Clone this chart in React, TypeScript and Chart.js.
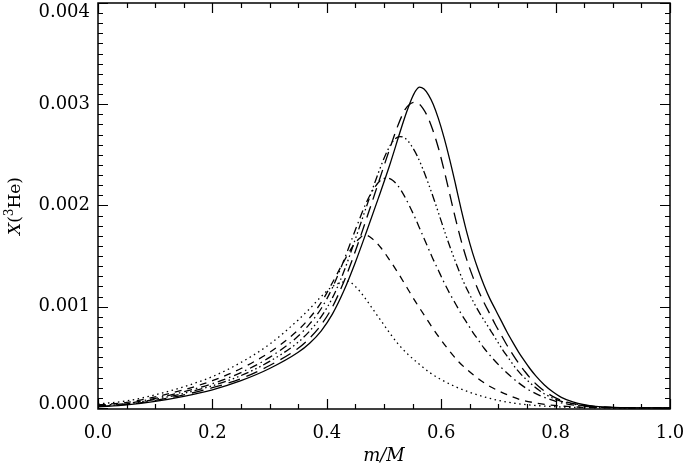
import React, { useEffect, useRef } from "react";
import { Chart, registerables } from "chart.js";

Chart.register(...registerables);

// Axis ticks
const X_TICKS = [0, 0.2, 0.4, 0.6, 0.8, 1.0];
const Y_TICKS = [0, 0.001, 0.002, 0.003, 0.004];
const X_MINOR_STEP = 0.05;
const Y_MINOR_STEP = 0.0001;
const X_LABEL = "m/M";

// Series (linestyles: solid, long dashes, dash-dot-dot-dot, dash-dot, dashed, dotted)
const solidX = [0, 0.05, 0.1, 0.15, 0.2, 0.25, 0.3, 0.35, 0.37, 0.39, 0.41, 0.43, 0.45, 0.47, 0.49, 0.51, 0.53, 0.54, 0.548, 0.555, 0.562, 0.57, 0.578, 0.586, 0.595, 0.605, 0.615, 0.625, 0.635, 0.645, 0.655, 0.665, 0.675, 0.685, 0.695, 0.705, 0.715, 0.725, 0.735, 0.745, 0.755, 0.765, 0.78, 0.795, 0.81, 0.83, 0.85, 0.87, 0.9, 0.94, 1.0];
const solidY = [0.01e-3, 0.03e-3, 0.065e-3, 0.115e-3, 0.18e-3, 0.27e-3, 0.39e-3, 0.55e-3, 0.64e-3, 0.76e-3, 0.93e-3, 1.16e-3, 1.44e-3, 1.75e-3, 2.07e-3, 2.40e-3, 2.76e-3, 2.93e-3, 3.05e-3, 3.13e-3, 3.17e-3, 3.15e-3, 3.09e-3, 3.00e-3, 2.86e-3, 2.67e-3, 2.45e-3, 2.21e-3, 1.96e-3, 1.73e-3, 1.53e-3, 1.36e-3, 1.21e-3, 1.08e-3, 0.97e-3, 0.86e-3, 0.75e-3, 0.65e-3, 0.555e-3, 0.47e-3, 0.39e-3, 0.32e-3, 0.23e-3, 0.16e-3, 0.105e-3, 0.06e-3, 0.032e-3, 0.016e-3, 0.006e-3, 0.002e-3, 0];

const longDashX = [0, 0.05, 0.1, 0.15, 0.2, 0.25, 0.3, 0.35, 0.37, 0.39, 0.41, 0.43, 0.45, 0.47, 0.49, 0.51, 0.525, 0.537, 0.545, 0.553, 0.56, 0.568, 0.576, 0.585, 0.595, 0.605, 0.615, 0.625, 0.635, 0.645, 0.655, 0.665, 0.675, 0.685, 0.695, 0.705, 0.715, 0.725, 0.735, 0.745, 0.755, 0.77, 0.785, 0.8, 0.82, 0.845, 0.87, 0.91, 1.0];
const longDashY = [0.015e-3, 0.035e-3, 0.075e-3, 0.13e-3, 0.20e-3, 0.29e-3, 0.42e-3, 0.59e-3, 0.69e-3, 0.82e-3, 1.00e-3, 1.25e-3, 1.55e-3, 1.88e-3, 2.22e-3, 2.56e-3, 2.80e-3, 2.95e-3, 3.00e-3, 3.02e-3, 3.01e-3, 2.96e-3, 2.88e-3, 2.75e-3, 2.57e-3, 2.35e-3, 2.11e-3, 1.87e-3, 1.65e-3, 1.46e-3, 1.30e-3, 1.16e-3, 1.04e-3, 0.93e-3, 0.82e-3, 0.72e-3, 0.62e-3, 0.53e-3, 0.445e-3, 0.37e-3, 0.30e-3, 0.215e-3, 0.15e-3, 0.10e-3, 0.058e-3, 0.03e-3, 0.014e-3, 0.004e-3, 0];

const dash3DotX = [0, 0.05, 0.1, 0.15, 0.2, 0.25, 0.3, 0.35, 0.37, 0.39, 0.41, 0.43, 0.45, 0.47, 0.49, 0.505, 0.518, 0.528, 0.538, 0.548, 0.558, 0.568, 0.578, 0.588, 0.598, 0.608, 0.618, 0.628, 0.638, 0.648, 0.658, 0.668, 0.678, 0.688, 0.698, 0.708, 0.718, 0.728, 0.74, 0.755, 0.77, 0.785, 0.8, 0.82, 0.845, 0.87, 0.91, 1.0];
const dash3DotY = [0.02e-3, 0.04e-3, 0.085e-3, 0.145e-3, 0.22e-3, 0.32e-3, 0.46e-3, 0.65e-3, 0.76e-3, 0.90e-3, 1.09e-3, 1.35e-3, 1.67e-3, 2.00e-3, 2.32e-3, 2.53e-3, 2.65e-3, 2.68e-3, 2.66e-3, 2.59e-3, 2.49e-3, 2.36e-3, 2.21e-3, 2.05e-3, 1.88e-3, 1.71e-3, 1.55e-3, 1.40e-3, 1.26e-3, 1.14e-3, 1.03e-3, 0.93e-3, 0.84e-3, 0.75e-3, 0.66e-3, 0.57e-3, 0.49e-3, 0.41e-3, 0.33e-3, 0.25e-3, 0.18e-3, 0.125e-3, 0.085e-3, 0.05e-3, 0.025e-3, 0.012e-3, 0.003e-3, 0];

const dashDotX = [0, 0.05, 0.1, 0.15, 0.2, 0.25, 0.3, 0.35, 0.37, 0.39, 0.41, 0.43, 0.45, 0.47, 0.485, 0.497, 0.505, 0.515, 0.525, 0.535, 0.545, 0.555, 0.565, 0.575, 0.585, 0.595, 0.605, 0.615, 0.625, 0.635, 0.645, 0.655, 0.665, 0.675, 0.69, 0.705, 0.72, 0.735, 0.75, 0.77, 0.79, 0.81, 0.84, 0.87, 0.92, 1.0];
const dashDotY = [0.025e-3, 0.045e-3, 0.095e-3, 0.16e-3, 0.24e-3, 0.35e-3, 0.50e-3, 0.71e-3, 0.83e-3, 0.98e-3, 1.19e-3, 1.46e-3, 1.76e-3, 2.04e-3, 2.19e-3, 2.26e-3, 2.27e-3, 2.25e-3, 2.19e-3, 2.10e-3, 1.99e-3, 1.87e-3, 1.74e-3, 1.61e-3, 1.48e-3, 1.36e-3, 1.24e-3, 1.13e-3, 1.03e-3, 0.93e-3, 0.84e-3, 0.75e-3, 0.67e-3, 0.59e-3, 0.49e-3, 0.40e-3, 0.32e-3, 0.25e-3, 0.19e-3, 0.13e-3, 0.085e-3, 0.05e-3, 0.022e-3, 0.009e-3, 0.002e-3, 0];

const dashedX = [0, 0.05, 0.1, 0.15, 0.2, 0.25, 0.3, 0.35, 0.37, 0.39, 0.41, 0.43, 0.447, 0.458, 0.467, 0.48, 0.495, 0.51, 0.525, 0.54, 0.555, 0.57, 0.585, 0.6, 0.615, 0.63, 0.645, 0.66, 0.68, 0.7, 0.72, 0.74, 0.76, 0.79, 0.82, 0.86, 0.9, 1.0];
const dashedY = [0.03e-3, 0.055e-3, 0.11e-3, 0.18e-3, 0.27e-3, 0.39e-3, 0.55e-3, 0.77e-3, 0.89e-3, 1.04e-3, 1.24e-3, 1.45e-3, 1.61e-3, 1.68e-3, 1.71e-3, 1.67e-3, 1.58e-3, 1.46e-3, 1.33e-3, 1.19e-3, 1.05e-3, 0.92e-3, 0.79e-3, 0.67e-3, 0.56e-3, 0.46e-3, 0.38e-3, 0.31e-3, 0.23e-3, 0.17e-3, 0.12e-3, 0.08e-3, 0.055e-3, 0.03e-3, 0.015e-3, 0.005e-3, 0.002e-3, 0];

const dottedX = [0, 0.05, 0.1, 0.15, 0.2, 0.25, 0.3, 0.35, 0.37, 0.39, 0.405, 0.42, 0.437, 0.45, 0.465, 0.48, 0.495, 0.51, 0.525, 0.54, 0.56, 0.58, 0.6, 0.625, 0.65, 0.675, 0.7, 0.73, 0.76, 0.8, 0.85, 0.9, 1.0];
const dottedY = [0.04e-3, 0.07e-3, 0.13e-3, 0.21e-3, 0.31e-3, 0.45e-3, 0.63e-3, 0.87e-3, 0.98e-3, 1.10e-3, 1.18e-3, 1.23e-3, 1.25e-3, 1.20e-3, 1.10e-3, 0.98e-3, 0.86e-3, 0.74e-3, 0.63e-3, 0.54e-3, 0.44e-3, 0.35e-3, 0.28e-3, 0.21e-3, 0.155e-3, 0.11e-3, 0.075e-3, 0.045e-3, 0.027e-3, 0.012e-3, 0.004e-3, 0.001e-3, 0];

const SERIES = [
  { xs: solidX, ys: solidY, dash: [] as number[] },
  { xs: longDashX, ys: longDashY, dash: [12, 7] },
  { xs: dash3DotX, ys: dash3DotY, dash: [8, 3, 1.5, 3, 1.5, 3, 1.5, 3] },
  { xs: dashDotX, ys: dashDotY, dash: [8, 4, 1.5, 4] },
  { xs: dashedX, ys: dashedY, dash: [7, 6] },
  { xs: dottedX, ys: dottedY, dash: [1.5, 3.5] },
];

const FONT = "'DejaVu Serif', serif";

const framePlugin = {
  id: "idlFrame",
  afterDatasetsDraw(chart: any) {
    const { ctx, chartArea: a, scales } = chart;
    const x = scales.x;
    const y = scales.y;
    ctx.save();
    ctx.strokeStyle = "#000";
    ctx.lineWidth = 1.5;
    ctx.strokeRect(a.left, a.top, a.right - a.left, a.bottom - a.top);
    ctx.lineWidth = 1.2;
    ctx.beginPath();
    const nx = Math.round((x.max - x.min) / X_MINOR_STEP);
    for (let i = 0; i <= nx; i++) {
      const v = x.min + i * X_MINOR_STEP;
      const px = Math.round(x.getPixelForValue(v)) + 0.5;
      const major = X_TICKS.some((t) => Math.abs(t - v) < 1e-9);
      const len = major ? 10 : 5;
      ctx.moveTo(px, a.bottom);
      ctx.lineTo(px, a.bottom - len);
      ctx.moveTo(px, a.top);
      ctx.lineTo(px, a.top + len);
    }
    const ny = Math.round(Y_TICKS[Y_TICKS.length - 1] / Y_MINOR_STEP);
    for (let i = 0; i <= ny; i++) {
      const v = i * Y_MINOR_STEP;
      const py = Math.round(y.getPixelForValue(v)) + 0.5;
      const major = Y_TICKS.some((t) => Math.abs(t - v) < 1e-12);
      const len = major ? 10 : 5;
      ctx.moveTo(a.left, py);
      ctx.lineTo(a.left + len, py);
      ctx.moveTo(a.right, py);
      ctx.lineTo(a.right - len, py);
    }
    ctx.stroke();

    // Y tick labels, kept inside the plot's vertical extent
    ctx.fillStyle = "#000";
    ctx.font = `18px ${FONT}`;
    ctx.textAlign = "right";
    ctx.textBaseline = "middle";
    Y_TICKS.forEach((v) => {
      const py = Math.min(Math.max(y.getPixelForValue(v), a.top + 9), a.bottom - 5);
      ctx.fillText(v.toFixed(3), a.left - 8, py);
    });

    // Y axis title: X(^3He)
    const cy = (a.top + a.bottom) / 2;
    ctx.translate(20, cy);
    ctx.rotate(-Math.PI / 2);
    ctx.textBaseline = "alphabetic";
    ctx.textAlign = "left";
    const parts = [
      { t: "X", f: `italic 17px ${FONT}`, dy: 0 },
      { t: "(", f: `17px ${FONT}`, dy: 0 },
      { t: "3", f: `12px ${FONT}`, dy: -7 },
      { t: "He)", f: `17px ${FONT}`, dy: 0 },
    ];
    let total = 0;
    const widths = parts.map((p) => {
      ctx.font = p.f;
      const w = ctx.measureText(p.t).width;
      total += w;
      return w;
    });
    let cx = -total / 2;
    parts.forEach((p, i) => {
      ctx.font = p.f;
      ctx.fillText(p.t, cx, p.dy);
      cx += widths[i];
    });
    ctx.restore();
  },
};

export default function App() {
  const ref = useRef<HTMLCanvasElement | null>(null);
  useEffect(() => {
    document.body.style.margin = "0";
    const canvas = ref.current;
    if (!canvas) return;
    const chart = new Chart(canvas, {
      type: "line",
      data: {
        datasets: SERIES.map((s) => ({
          data: s.xs.map((xv, i) => ({ x: xv, y: s.ys[i] })),
          borderColor: "#000",
          borderWidth: 1.3,
          borderDash: s.dash,
          pointRadius: 0,
          fill: false,
          cubicInterpolationMode: "monotone" as const,
        })),
      },
      options: {
        animation: false,
        responsive: false,
        maintainAspectRatio: false,
        events: [],
        layout: { padding: { top: 3, right: 15, left: 0, bottom: 0 }, autoPadding: false },
        plugins: { legend: { display: false }, tooltip: { enabled: false } },
        scales: {
          x: {
            type: "linear",
            min: 0,
            max: 1,
            afterBuildTicks: (s: any) => {
              s.ticks = X_TICKS.map((v) => ({ value: v }));
            },
            afterFit: (s: any) => {
              s.height = 58;
              s.paddingLeft = 0;
              s.paddingRight = 0;
              s.paddingTop = 0;
              s.paddingBottom = 0;
            },
            grid: { display: false, drawTicks: false },
            border: { display: false },
            ticks: {
              autoSkip: false,
              maxRotation: 0,
              padding: 14,
              color: "#000",
              font: { family: FONT, size: 18 },
              callback: (v: any) => Number(v).toFixed(1),
            },
            title: {
              display: true,
              text: X_LABEL,
              color: "#000",
              font: { family: FONT, size: 18, style: "italic" },
              padding: { top: 0, bottom: 0 },
            },
          },
          y: {
            type: "linear",
            min: -0.00001,
            max: 0.004,
            afterBuildTicks: (s: any) => {
              s.ticks = Y_TICKS.map((v) => ({ value: v }));
            },
            afterFit: (s: any) => {
              s.width = 98;
              s.paddingLeft = 0;
              s.paddingRight = 0;
              s.paddingTop = 0;
              s.paddingBottom = 0;
            },
            grid: { display: false, drawTicks: false },
            border: { display: false },
            ticks: { display: false },
          },
        },
      },
      plugins: [framePlugin],
    });
    return () => chart.destroy();
  }, []);
  return (
    <div style={{ position: "absolute", left: 0, top: 0, width: 685, height: 467, background: "#fff" }}>
      <canvas ref={ref} width={685} height={467} style={{ width: 685, height: 467, display: "block" }} />
    </div>
  );
}
